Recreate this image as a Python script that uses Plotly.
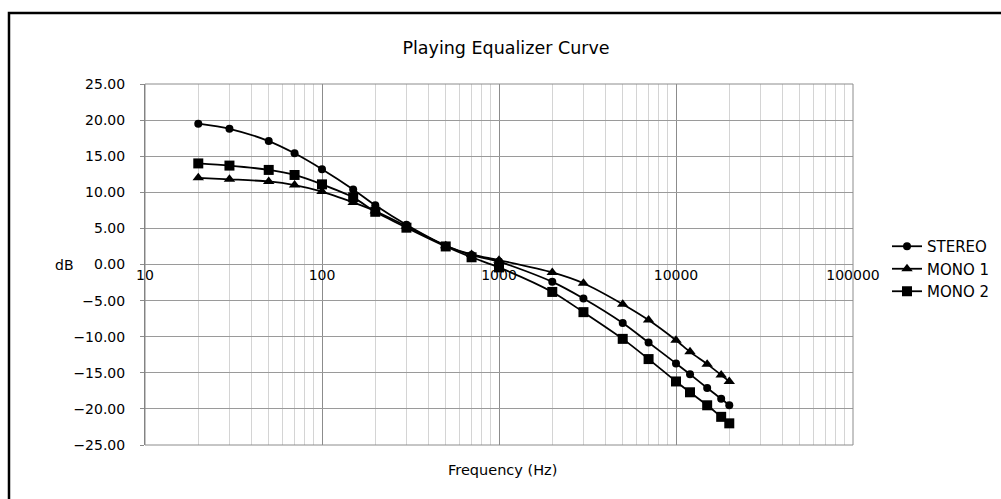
import plotly.graph_objects as go

freq = [20, 30, 50, 70, 100, 150, 200, 300, 500, 700, 1000, 2000, 3000, 5000, 7000, 10000, 12000, 15000, 18000, 20000]
stereo = [19.5, 18.8, 17.1, 15.4, 13.2, 10.4, 8.2, 5.5, 2.6, 1.3, 0.4, -2.4, -4.7, -8.1, -10.8, -13.7, -15.2, -17.1, -18.6, -19.5]
mono1 = [12.0, 11.8, 11.5, 11.0, 10.1, 8.6, 7.4, 5.3, 2.6, 1.4, 0.6, -1.1, -2.6, -5.5, -7.7, -10.5, -12.1, -13.8, -15.3, -16.2]
mono2 = [14.0, 13.7, 13.1, 12.4, 11.1, 9.3, 7.3, 5.1, 2.5, 1.0, -0.4, -3.8, -6.6, -10.3, -13.1, -16.2, -17.7, -19.5, -21.1, -22.0]

series_names = ["STEREO", "MONO 1", "MONO 2"]
x_tick_vals = [10, 100, 1000, 10000, 100000]
x_tick_text = ["10", "100", "1000", "10000", "100000"]
y_tick_vals = [25, 20, 15, 10, 5, 0, -5, -10, -15, -20, -25]

FONT = "DejaVu Sans"

fig = go.Figure()
for name, vals, sym, size in [
    (series_names[0], stereo, "circle", 8),
    (series_names[1], mono1, "triangle-up", 10),
    (series_names[2], mono2, "square", 10),
]:
    fig.add_trace(go.Scatter(
        x=freq, y=vals, name=name, mode="lines+markers",
        line=dict(color="black", width=1.8, shape="spline", smoothing=0.8),
        marker=dict(symbol=sym, size=size, color="black"),
    ))

minor_vals = [m * d for d in [10, 100, 1000, 10000] for m in range(2, 10)]

fig.update_layout(
    width=1001, height=499,
    margin=dict(l=145, r=148, t=84, b=54, autoexpand=False),
    paper_bgcolor="white", plot_bgcolor="white",
    font=dict(family=FONT, size=14, color="black"),
    title=dict(text="Playing Equalizer Curve", x=506 / 1001, xref="container", xanchor="center",
               y=1 - 48 / 499, yref="container", yanchor="middle", font=dict(size=17.5)),
    showlegend=True,
    legend=dict(x=887 / 1001, xref="container", xanchor="left",
                y=1 - 269 / 499, yref="container", yanchor="middle",
                font=dict(size=15), bgcolor="rgba(0,0,0,0)", tracegroupgap=0),
    xaxis=dict(
        type="log", range=[1, 5], anchor="free", position=0.5,
        tickvals=x_tick_vals, ticktext=x_tick_text, ticks="",
        showgrid=True, gridcolor="#8c8c8c", gridwidth=1,
        minor=dict(tickvals=minor_vals, showgrid=True, gridcolor="#d4d4d4", gridwidth=1, ticks=""),
        showline=False, zeroline=False,
        tickfont=dict(size=14),
    ),
    yaxis=dict(
        range=[-25, 25], tickvals=y_tick_vals, tickformat=".2f",
        ticks="outside", ticklen=4, tickcolor="#8c8c8c",
        showgrid=True, gridcolor="#9a9a9a", gridwidth=1,
        showline=True, linecolor="#7a7a7a", linewidth=1,
        zeroline=False, ticklabelstandoff=12,
        tickfont=dict(size=14),
    ),
    annotations=[
        dict(text="dB", x=-0.113, y=0.5, xref="paper", yref="paper", showarrow=False,
             xanchor="center", yanchor="middle", font=dict(size=14)),
        dict(text="Frequency (Hz)", x=0.5056, y=-0.069, xref="paper", yref="paper", showarrow=False,
             xanchor="center", yanchor="middle", font=dict(size=14.5)),
    ],
    shapes=[
        dict(type="rect", xref="paper", yref="paper", x0=0, x1=1, y0=0, y1=1,
             line=dict(color="#8c8c8c", width=1), layer="above"),
        dict(type="rect", xref="paper", yref="paper", x0=-0.1921, x1=1.5, y0=-0.5, y1=1.1967,
             line=dict(color="black", width=2.5), layer="above"),
    ],
)

fig.write_html(
    "out.html",
    config={"displayModeBar": False},
    post_script="document.body.style.margin='0';document.body.style.overflow='hidden';",
)
